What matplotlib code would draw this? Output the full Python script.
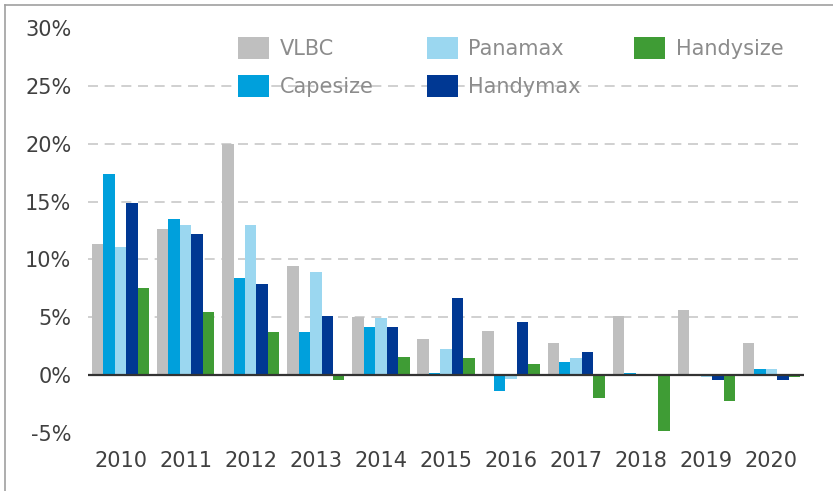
import numpy as np
import matplotlib
matplotlib.use("Agg")
import matplotlib.pyplot as plt
from matplotlib.lines import Line2D

years = ["2010", "2011", "2012", "2013", "2014", "2015", "2016", "2017", "2018", "2019", "2020"]
series = ["VLBC", "Capesize", "Panamax", "Handymax", "Handysize"]

vlbc = [11.3, 12.6, 20.0, 9.45, 5.0, 3.1, 3.85, 2.8, 5.15, 5.65, 2.8]
capesize = [17.4, 13.5, 8.4, 3.7, 4.2, 0.2, -1.35, 1.1, 0.2, 0.0, 0.5]
panamax = [11.1, 13.0, 13.0, 8.9, 4.9, 2.3, -0.3, 1.5, 0.1, -0.2, 0.5]
handymax = [14.85, 12.2, 7.9, 5.1, 4.2, 6.7, 4.6, 2.0, 0.0, -0.45, -0.45]
handysize = [7.5, 5.5, 3.7, -0.45, 1.6, 1.5, 1.0, -2.0, -4.85, -2.25, -0.2]

valores = [vlbc, capesize, panamax, handymax, handysize]
colores = ["#bfbfbf", "#00a0dc", "#9bd7f0", "#003893", "#3f9c35"]

yticks = [-5, 0, 5, 10, 15, 20, 25, 30]
grid_y = [5, 10, 15, 20, 25]

plt.rcParams['font.family'] = ['DejaVu Sans']

fig = plt.figure(figsize=(8.33, 4.91), dpi=100)
ax = fig.add_axes([88 / 833, 1 - 433 / 491, (804 - 88) / 833, (433 - 28) / 491])

x = np.arange(len(years))
ancho = 0.176
for i, (nombre, vals, c) in enumerate(zip(series, valores, colores)):
    ax.bar(x + (i - 2) * ancho, vals, width=ancho, color=c, label=nombre, zorder=3)

ax.set_xlim(-0.5, len(years) - 0.5)
ax.set_ylim(-5, 30)

# lineas de rejilla punteadas
for g in grid_y:
    ax.axhline(g, color="#c8c8c8", lw=1.2, ls=(0, (6, 4)), zorder=1)
ax.axhline(0, color="#333333", lw=1.6, zorder=4)

ax.set_yticks(yticks)
ax.set_yticklabels([f"{v}%" for v in yticks])
ax.set_xticks(x)
ax.set_xticklabels(years)
ax.tick_params(axis="both", length=0, labelsize=15, labelcolor="#404040")
ax.tick_params(axis="y", pad=12)
ax.tick_params(axis="x", pad=13)
for s in ax.spines.values():
    s.set_visible(False)

leg = ax.legend(ncol=3, loc="upper left", bbox_to_anchor=(0.183, 1.025),
                frameon=False, fontsize=15, handlelength=1.5, handleheight=1.3,
                handletextpad=0.5, columnspacing=2.56, labelspacing=0.73)
for t in leg.get_texts():
    t.set_color("#8c8c8c")

# borde de la imagen (arriba e izquierda)
fig.add_artist(Line2D([5 / 833, 5 / 833], [0, 1 - 5 / 491], transform=fig.transFigure, color="#a0a0a0", lw=1.2))
fig.add_artist(Line2D([5 / 833, 1], [1 - 5 / 491, 1 - 5 / 491], transform=fig.transFigure, color="#a0a0a0", lw=1.2))

fig.savefig("out.png", dpi=100)
